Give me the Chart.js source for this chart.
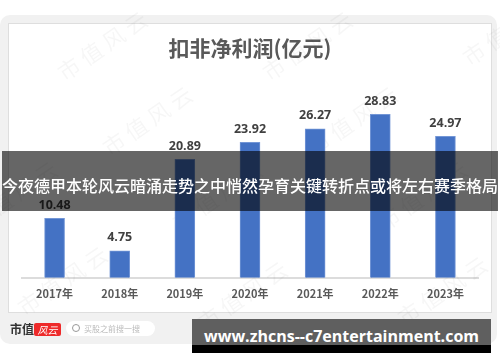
<!DOCTYPE html>
<html>
<head>
<meta charset="utf-8">
<script src="https://cdn.jsdelivr.net/npm/chart.js@4/dist/chart.umd.min.js"></script>
<style>
  html, body { margin: 0; padding: 0; background: #fff; }
  body { width: 500px; height: 362px; position: relative; overflow: hidden; font-family: "Noto Sans CJK SC", sans-serif; }
  .card { position: absolute; left: 0; top: 15px; width: 497px; height: 329px; background: #f1f1f1; border-radius: 10px; }
  .inner { position: absolute; left: 8px; top: 23px; width: 482px; height: 288px; background: #fff; border: 1px solid #dedede; }
  canvas { position: absolute; left: 0; top: 0; }
  .banner { position: absolute; left: 2px; top: 151px; width: 496px; height: 60px; background: rgba(0,0,0,.6); color: #fff; font-size: 16px; font-weight: 500; line-height: 68px; text-align: center; white-space: nowrap; }
  .site { position: absolute; left: 192px; top: 319px; width: 299px; height: 34px; background: linear-gradient(#5f5f5f 0, #5f5f5f 26px, #000 26px); color: #fff; font: bold 16px "Open Sans", sans-serif; line-height: 34px; text-align: center; white-space: nowrap; }
  .logo { position: absolute; left: 10px; top: 322px; font: bold 12px "Noto Sans CJK SC", serif; color: #333; line-height: 14px; }
  .red { position: absolute; left: 34px; top: 323px; width: 27px; height: 13px; background: #ee2a2a; color: #fff; font-size: 10px; line-height: 13px; text-align: center; border-radius: 2px; font-style: italic; }
  .search { position: absolute; left: 66px; top: 321px; width: 89px; height: 15px; background: #fff; border-radius: 8px; color: #bbb; font-size: 8px; line-height: 15px; text-indent: 18px; white-space: nowrap; }
  .search i { position: absolute; left: 6px; top: 3px; width: 6px; height: 6px; border: 1px solid #999; border-radius: 50%; }
</style>
</head>
<body>
<div class="card"></div>
<div class="inner"></div>
<canvas id="profitChart" width="500" height="362"></canvas>
<div class="logo">市值</div>
<div class="red">风云</div>
<div class="search"><i></i>买股之前搜一搜</div>
<div class="banner">今夜德甲本轮风云暗涌走势之中悄然孕育关键转折点或将左右赛季格局</div>
<div class="site">www.zhcns--c7entertainment.com</div>
<script>
const years = ['2017年', '2018年', '2019年', '2020年', '2021年', '2022年', '2023年'];
const profit = [10.48, 4.75, 20.89, 23.92, 26.27, 28.83, 24.97];
const chartTitle = '扣非净利润(亿元)';
const watermark = '市值风云';
const markSpots = [[60, 75], [265, 75], [465, 60], [105, 150], [310, 150], [-30, 225], [175, 225], [380, 225], [20, 310], [200, 325], [400, 320]];

const cjk = '"Noto Sans CJK SC", sans-serif';

const watermarkPlugin = {
    id: 'watermarkPlugin',
    beforeDatasetsDraw(chart) {
        const { ctx } = chart;
        ctx.save();
        ctx.fillStyle = 'rgba(0,0,0,0.035)';
        ctx.font = '22px ' + cjk;
        ctx.textBaseline = 'middle';
        markSpots.forEach(([x, y]) => {
            ctx.save();
            ctx.translate(x, y);
            ctx.rotate(-0.6);
            ctx.fillText(watermark.split('').join(' '), 0, 0);
            ctx.restore();
        });
        ctx.restore();
    }
};

const barLabels = {
    id: 'barLabels',
    afterDatasetsDraw(chart) {
        const { ctx } = chart;
        ctx.save();
        ctx.fillStyle = '#404040';
        ctx.font = 'bold 12.5px "Open Sans", sans-serif';
        ctx.textAlign = 'center';
        ctx.textBaseline = 'middle';
        chart.getDatasetMeta(0).data.forEach((bar, i) => {
            ctx.fillText(profit[i].toFixed(2), bar.x, bar.y - 13);
        });
        ctx.restore();
    }
};

new Chart(document.getElementById('profitChart'), {
    type: 'bar',
    data: {
        labels: years,
        datasets: [{
            data: profit,
            backgroundColor: '#4472c4',
            borderColor: '#7396d6',
            borderWidth: 1,
            barThickness: 20,
            borderSkipped: 'bottom',
        }]
    },
    options: {
        responsive: false,
        animation: false,
        layout: { padding: { left: 22, right: 22, top: 35, bottom: 53 } },
        scales: {
            y: { display: false, min: 0, max: 38.4 },
            x: {
                grid: { display: false, drawTicks: false },
                border: { color: '#dcdcdc', width: 2 },
                ticks: { color: '#595959', font: { family: cjk, size: 11, weight: 'bold' }, padding: 9, maxRotation: 0 },
            }
        },
        plugins: {
            legend: { display: false },
            tooltip: { enabled: false },
            title: {
                display: true,
                text: chartTitle,
                color: '#595959',
                font: { family: cjk, size: 21, weight: 'bold' },
                padding: { top: 0, bottom: 0 },
            },
        },
    },
    plugins: [watermarkPlugin, barLabels]
});
</script>
</body>
</html>
